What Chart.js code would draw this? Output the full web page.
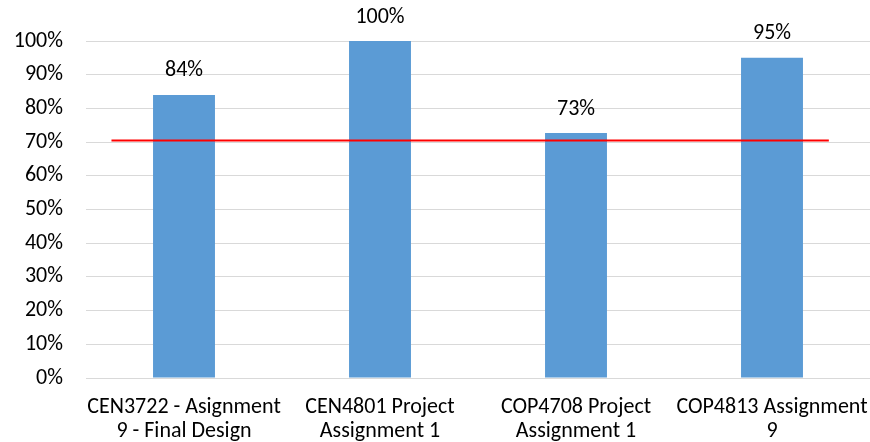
<!DOCTYPE html>
<html>
<head>
<meta charset="utf-8">
<script src="https://cdn.jsdelivr.net/npm/chart.js@4.4.0/dist/chart.umd.min.js"></script>
<style>
  body { margin: 0; background: #fff; }
  #wrap { width: 870px; height: 442px; }
</style>
</head>
<body>
<div id="wrap"><canvas id="mycanvas" width="870" height="442"></canvas></div>
<script>
// chart values
var categories = [
	['CEN3722 - Asignment', '9 - Final Design'],
	['CEN4801 Project', 'Assignment 1'],
	['COP4708 Project', 'Assignment 1'],
	['COP4813 Assignment', '9']
];
var scores = [84, 100, 72.7, 95];
var targetLevel = 70.5;
var targetSpan = [-0.37, 3.29];   // start/end in category units
var yTicks = [0, 10, 20, 30, 40, 50, 60, 70, 80, 90, 100];

var fontFamily = "Carlito, Lato, 'Liberation Sans', sans-serif";

// writes the % value above each bar
var barLabels = {
	id: 'barLabels',
	afterDatasetsDraw: function(chart) {
		var ctx = chart.ctx;
		var meta = chart.getDatasetMeta(0);
		ctx.save();
		ctx.font = '22px ' + fontFamily;
		ctx.fillStyle = '#000';
		ctx.textAlign = 'center';
		ctx.textBaseline = 'middle';
		meta.data.forEach(function(bar, i) {
			ctx.fillText(Math.round(scores[i]) + '%', bar.x, bar.y - 24);
		});
		ctx.restore();
	}
};

var chartdata = {
	labels: categories,
	datasets: [
		{
			type: 'bar',
			label: 'Score',
			backgroundColor: '#5B9BD5',
			borderWidth: 0,
			data: scores,
			grouped: false,
			barPercentage: 0.316,
			categoryPercentage: 1,
			order: 2
		},
		{
			type: 'line',
			label: 'Target',
			xAxisID: 'x2',
			borderColor: '#FF0000',
			borderWidth: 2,
			pointRadius: 0,
			fill: false,
			data: targetSpan.map(function(x) { return {x: x, y: targetLevel}; }),
			order: 1
		}
	]
};

var ctx = document.getElementById('mycanvas');
var barGraph = new Chart(ctx, {
	data: chartdata,
	plugins: [barLabels],
	options: {
		responsive: false,
		animation: false,
		layout: { padding: { top: 41, left: 0, right: 0, bottom: 0 } },
		plugins: {
			legend: { display: false },
			tooltip: { enabled: false }
		},
		scales: {
			x: {
				type: 'category',
				offset: true,
				grid: { display: false, drawTicks: false },
				border: { display: true, color: '#D9D9D9', width: 1 },
				ticks: {
					color: '#000',
					font: { family: fontFamily, size: 22, lineHeight: 1.12 },
					padding: 17,
					maxRotation: 0,
					autoSkip: false
				},
				afterFit: function(s) {
					s.height = 64;
					s.paddingLeft = 0;
					s.paddingRight = 0;
				}
			},
			x2: {
				type: 'linear',
				display: false,
				min: -0.5,
				max: 3.5
			},
			y: {
				min: 0,
				max: 100,
				afterBuildTicks: function(s) {
					s.ticks = yTicks.map(function(v) { return {value: v}; });
				},
				grid: { color: '#D9D9D9', lineWidth: 1, drawTicks: false },
				border: { display: false },
				ticks: {
					color: '#000',
					font: { family: fontFamily, size: 22 },
					padding: 23,
					callback: function(v) { return v + '%'; }
				},
				afterFit: function(s) { s.width = 86; }
			}
		}
	}
});
</script>
</body>
</html>
